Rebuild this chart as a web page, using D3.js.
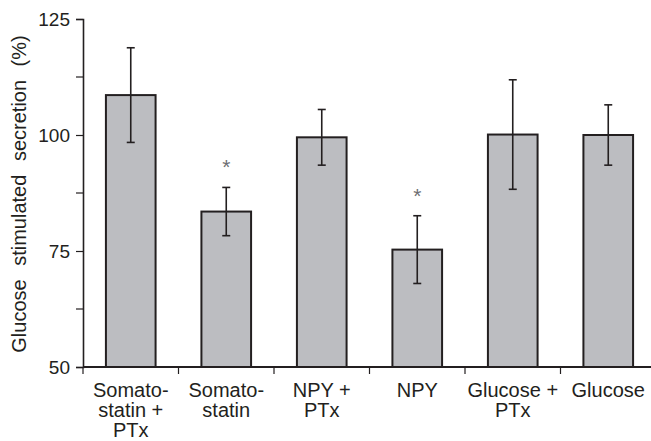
<!DOCTYPE html>
<html>
<head>
<meta charset="utf-8">
<script src="https://cdn.jsdelivr.net/npm/d3@7"></script>
<style>
  body { margin: 0; background: #fff; }
  text { font-family: Arial, "Liberation Sans", sans-serif; fill: #231f20; }
</style>
</head>
<body>
<div id="chart"></div>
<script>
const categories = ["Somato-\nstatin +\nPTx", "Somato-\nstatin", "NPY +\nPTx", "NPY", "Glucose +\nPTx", "Glucose"]
const means = [108.6, 83.5, 99.5, 75.3, 100.1, 100.0]
const errors = [10.2, 5.2, 6.0, 7.3, 11.8, 6.5]
const significant = [false, true, false, true, false, false]
const yTicks = [50, 75, 100, 125]
const yMinorTicks = [62.5, 87.5, 112.5]

const width = 651, height = 441
const margin = {top: 19, right: -5, bottom: 74, left: 83}
const ink = "#231f20"

const svg = d3.select("#chart")
    .append("svg")
    .attr("width", width)
    .attr("height", height)

const x = d3.scaleBand()
    .domain(categories)
    .range([margin.left, width - margin.right])
    .paddingInner(0.48)
    .paddingOuter(0.24)

const y = d3.scaleLinear()
    .domain([50, 125])
    .range([height - margin.bottom, margin.top])

const rows = categories.map((c, i) => ({
    cat: c, mean: means[i], err: errors[i], sig: significant[i]
}))

// bars
svg.append("g")
    .selectAll("rect")
    .data(rows)
    .join("rect")
    .attr("x", d => x(d.cat))
    .attr("y", d => y(d.mean))
    .attr("width", x.bandwidth())
    .attr("height", d => y(50) - y(d.mean))
    .attr("fill", "#bcbdc1")
    .attr("stroke", ink)
    .attr("stroke-width", 2)

// error bars
const eb = svg.append("g")
    .attr("stroke", ink)
    .attr("stroke-width", 1.6)
    .selectAll("g")
    .data(rows)
    .join("g")
    .attr("transform", d => `translate(${x(d.cat) + x.bandwidth() / 2},0)`)

eb.append("line")
    .attr("y1", d => y(d.mean - d.err))
    .attr("y2", d => y(d.mean + d.err))
eb.append("line")
    .attr("x1", -4).attr("x2", 4)
    .attr("y1", d => y(d.mean + d.err))
    .attr("y2", d => y(d.mean + d.err))
eb.append("line")
    .attr("x1", -4).attr("x2", 4)
    .attr("y1", d => y(d.mean - d.err))
    .attr("y2", d => y(d.mean - d.err))

// significance stars
svg.append("g")
    .selectAll("text")
    .data(rows.filter(d => d.sig))
    .join("text")
    .attr("x", d => x(d.cat) + x.bandwidth() / 2)
    .attr("y", d => y(d.mean + d.err) - 13)
    .attr("text-anchor", "middle")
    .style("font-size", "21px")
    .style("fill", "#6d6e71")
    .text("*")

// y axis
const yAxis = svg.append("g")
    .attr("transform", `translate(${margin.left},0)`)
    .call(d3.axisLeft(y).tickValues(yTicks).tickSize(7).tickPadding(6))
yAxis.select(".domain").attr("stroke", ink).attr("stroke-width", 1.6)
yAxis.selectAll(".tick line").attr("stroke", ink).attr("stroke-width", 1.2)
yAxis.selectAll(".tick text").style("font-size", "19px").style("font-family", "Arial, 'Liberation Sans', sans-serif").attr("fill", ink)

yAxis.selectAll(".minor")
    .data(yMinorTicks)
    .join("line")
    .attr("class", "minor")
    .attr("x1", -7).attr("x2", 0)
    .attr("y1", d => y(d)).attr("y2", d => y(d))
    .attr("stroke", ink)
    .attr("stroke-width", 1.2)

// x axis
const step = x.step()
const xAxis = svg.append("g")
    .attr("transform", `translate(0,${y(50)})`)
xAxis.append("line")
    .attr("x1", margin.left).attr("x2", width)
    .attr("stroke", ink)
    .attr("stroke-width", 2)
xAxis.selectAll(".sep")
    .data(categories)
    .join("line")
    .attr("class", "sep")
    .attr("x1", d => x(d) - step * 0.24)
    .attr("x2", d => x(d) - step * 0.24)
    .attr("y1", 0).attr("y2", 7)
    .attr("stroke", ink)
    .attr("stroke-width", 1.2)

const labels = xAxis.selectAll(".lab")
    .data(categories)
    .join("text")
    .attr("class", "lab")
    .attr("text-anchor", "middle")
    .style("font-size", "20px")
    .attr("transform", d => `translate(${x(d) + x.bandwidth() / 2},0)`)
labels.selectAll("tspan")
    .data(d => d.split("\n"))
    .join("tspan")
    .attr("x", 0)
    .attr("y", (d, i) => 30 + i * 20)
    .text(d => d)

// y title
svg.append("text")
    .attr("transform", `translate(26,${(y(50) + y(125)) / 2 + 1}) rotate(-90)`)
    .attr("text-anchor", "middle")
    .style("font-size", "20px")
    .style("word-spacing", "8px")
    .text("Glucose stimulated secretion (%)")
</script>
</body>
</html>
